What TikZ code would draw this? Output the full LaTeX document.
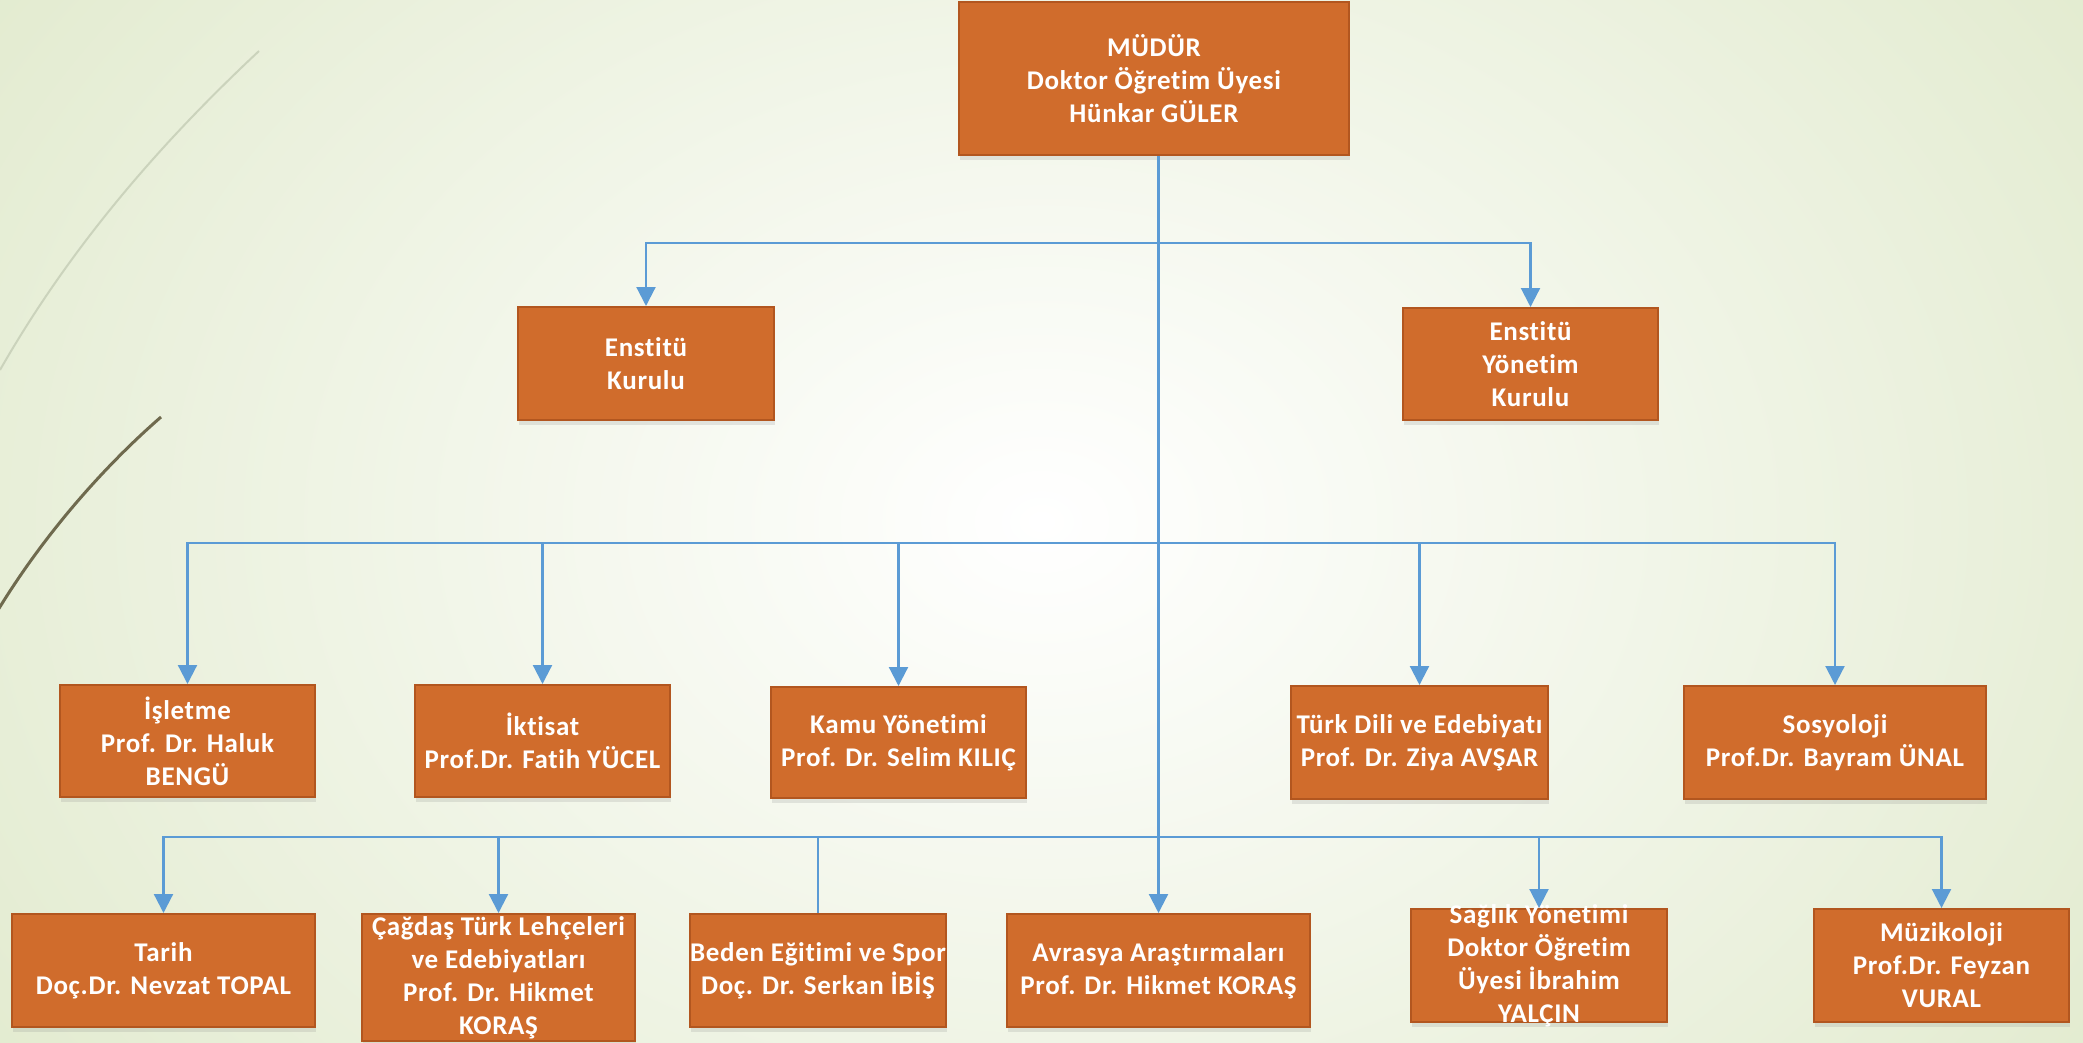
\documentclass[tikz,border=0pt]{standalone}
\usepackage{fontspec}
\setmainfont{Carlito}[Ligatures={NoCommon}, LetterSpace=2.5]
\usetikzlibrary{arrows.meta,shadows}
\definecolor{boxfill}{HTML}{D06C2C}
\definecolor{boxline}{HTML}{B2561F}
\definecolor{conncol}{HTML}{5B9BD5}
\definecolor{bgedge}{HTML}{E1EACD}
\definecolor{leafA}{HTML}{CBD3BC}
\definecolor{leafB}{HTML}{6F6A4E}
\tikzset{
  orgbox/.style={draw=boxline, line width=2pt, fill=boxfill, inner sep=0pt,
    drop shadow={shadow xshift=1pt, shadow yshift=-5pt, opacity=0.18}},
  orgtxt/.style={text=white, align=center, inner sep=0pt,
    font=\bfseries\fontsize{27}{33}\selectfont},
  conn/.style={draw=conncol, line width=2.2pt},
  arr/.style={conn, -{Triangle[width=19pt,length=19pt]}}
}
\begin{document}
\begin{tikzpicture}[x=1pt,y=-1pt]
\useasboundingbox (0,0) rectangle (2083,1043);
\shade[inner color=white, outer color=bgedge] (-300,-500) rectangle (2383,1543);
% decorative curves
\draw[leafA, line width=2pt] (0,370) .. controls (80,230) and (180,125) .. (259,51);
\draw[leafB, line width=3pt] (-5,615) .. controls (40,540) and (100,470) .. (161,417);
% boxes
\node[orgbox, minimum width=390pt, minimum height=153pt] (mudur) at (1154,78.5) {};
\node[orgbox, minimum width=256pt, minimum height=113pt] (ek) at (646,363.5) {};
\node[orgbox, minimum width=255pt, minimum height=112pt] (eyk) at (1530.5,364) {};
\node[orgbox, minimum width=255pt, minimum height=112pt] (isletme) at (187.5,741) {};
\node[orgbox, minimum width=255pt, minimum height=112pt] (iktisat) at (542.5,741) {};
\node[orgbox, minimum width=255pt, minimum height=111pt] (kamu) at (898.5,742.5) {};
\node[orgbox, minimum width=257pt, minimum height=113pt] (turk) at (1419.5,742.5) {};
\node[orgbox, minimum width=302pt, minimum height=113pt] (sosyo) at (1835,742.5) {};
\node[orgbox, minimum width=303pt, minimum height=113pt] (tarih) at (163.5,970.5) {};
\node[orgbox, minimum width=273pt, minimum height=127pt] (cagdas) at (498.5,977.5) {};
\node[orgbox, minimum width=256pt, minimum height=113pt] (beden) at (818,970.5) {};
\node[orgbox, minimum width=303pt, minimum height=113pt] (avrasya) at (1158.5,970.5) {};
\node[orgbox, minimum width=256pt, minimum height=113pt] (saglik) at (1539,965.5) {};
\node[orgbox, minimum width=255pt, minimum height=113pt] (muzik) at (1941.5,965.5) {};
% texts
\node[orgtxt] (tmudur) at (mudur) {MÜDÜR\\Doktor Öğretim Üyesi\\Hünkar GÜLER};
\node[orgtxt] (tek) at (ek) {Enstitü\\Kurulu};
\node[orgtxt] (teyk) at (eyk) {Enstitü\\Yönetim\\Kurulu};
\node[orgtxt] (tisletme) at (isletme) {İşletme\\Prof. Dr. Haluk\\BENGÜ};
\node[orgtxt] (tiktisat) at (iktisat) {İktisat\\Prof.Dr. Fatih YÜCEL};
\node[orgtxt] (tkamu) at (kamu) {Kamu Yönetimi\\Prof. Dr. Selim KILIÇ};
\node[orgtxt] (tturk) at (turk) {Türk Dili ve Edebiyatı\\Prof. Dr. Ziya AVŞAR};
\node[orgtxt] (tsosyo) at (sosyo) {Sosyoloji\\Prof.Dr. Bayram ÜNAL};
\node[orgtxt] (ttarih) at (tarih) {Tarih\\Doç.Dr. Nevzat TOPAL};
\node[orgtxt] (tcagdas) at (cagdas) {Çağdaş Türk Lehçeleri\\ve Edebiyatları\\Prof. Dr. Hikmet\\KORAŞ};
\node[orgtxt] (tbeden) at (beden) {Beden Eğitimi ve Spor\\Doç. Dr. Serkan İBİŞ};
\node[orgtxt] (tavrasya) at (avrasya) {Avrasya Araştırmaları\\Prof. Dr. Hikmet KORAŞ};
\node[orgtxt] (tsaglik) at (saglik) {Sağlık Yönetimi\\Doktor Öğretim\\Üyesi İbrahim\\YALÇIN};
\node[orgtxt] (tmuzik) at (muzik) {Müzikoloji\\Prof.Dr. Feyzan\\VURAL};
% connectors
\coordinate (bus1) at (1157,243);
\coordinate (bus2) at (1157,543);
\coordinate (bus3) at (1157,837);
\draw[arr] (avrasya.north |- mudur.south) -- (avrasya.north);
\draw[arr] (bus1) -| (ek.north);
\draw[arr] (bus1) -| (eyk.north);
\draw[arr] (bus2) -| (isletme.north);
\draw[arr] (bus2) -| (iktisat.north);
\draw[arr] (bus2) -| (kamu.north);
\draw[arr] (bus2) -| (turk.north);
\draw[arr] (bus2) -| (sosyo.north);
\draw[arr] (bus3) -| (tarih.north);
\draw[arr] (bus3) -| (cagdas.north);
\draw[conn] (bus3) -| (beden.north);
\draw[arr] (bus3) -| (saglik.north);
\draw[arr] (bus3) -| (muzik.north);
\end{tikzpicture}
\end{document}
